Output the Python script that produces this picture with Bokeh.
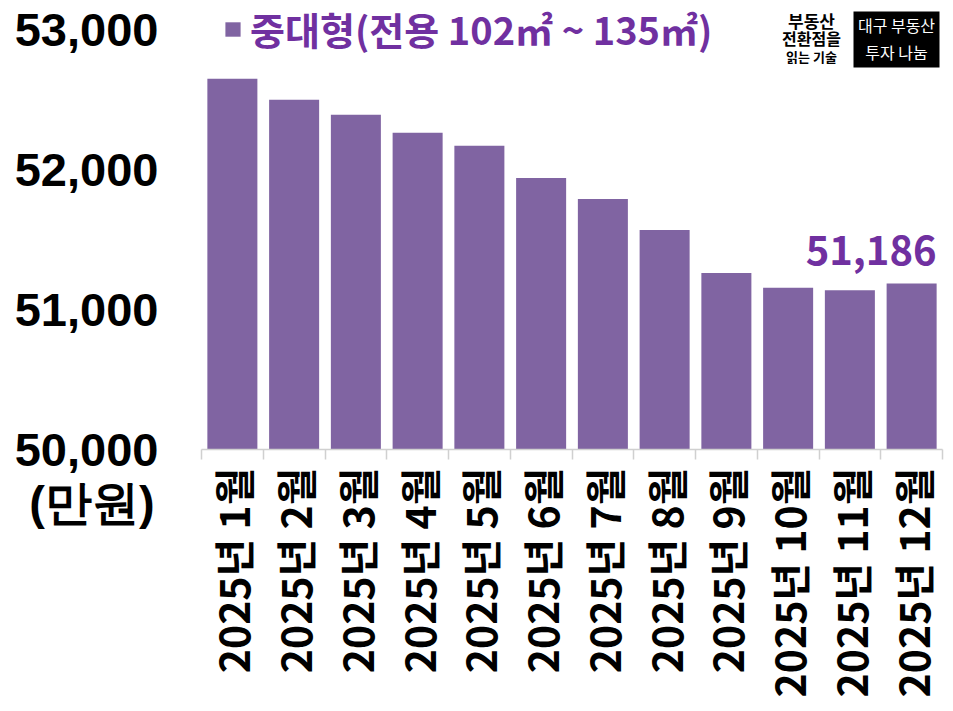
import math
from bokeh.plotting import figure
from bokeh.models import (Range1d, FixedTicker, Legend, LegendItem, Label, BoxAnnotation)
from bokeh.core.properties import value
from bokeh.embed import file_html
from bokeh.resources import INLINE

# ---- data ----
months = ["2025년 1월", "2025년 2월", "2025년 3월", "2025년 4월", "2025년 5월", "2025년 6월",
          "2025년 7월", "2025년 8월", "2025년 9월", "2025년 10월", "2025년 11월", "2025년 12월"]
prices = [52648, 52498, 52391, 52262, 52169, 51940, 51790, 51568, 51260, 51155, 51138, 51186]
y_ticks = [50000, 51000, 52000, 53000]
y_tick_labels = ["50,000", "51,000", "52,000", "53,000"]
series_name = "중대형(전용 102㎡ ~ 135㎡)"
unit_label = "(만원)"
last_label = "51,186"

BAR = "#8064A2"
PURPLE = "#7030A0"
KR = "Noto Sans CJK KR"

W, H = 953, 711
ML, MR, MT, MB = 201, 11, 0, 262

p = figure(width=W, height=H, output_backend="svg", toolbar_location=None,
           x_range=Range1d(0, len(months)), y_range=Range1d(50000, 53207),
           min_border_left=ML, min_border_right=MR, min_border_top=MT, min_border_bottom=MB)
p.outline_line_color = None
p.grid.visible = False
p.background_fill_color = "white"
p.border_fill_color = "white"

xs = [i + 0.5 for i in range(len(months))]
bw = 0.81
r = p.vbar(x=xs, top=prices, bottom=50000, width=bw, fill_color=BAR, line_color=None)

# x axis
xa = p.xaxis[0]
xa.ticker = FixedTicker(ticks=xs, minor_ticks=list(range(len(months) + 1)))
xa.major_label_overrides = {x: m for x, m in zip(xs, months)}
xa.major_label_orientation = math.pi / 2
xa.major_tick_line_color = None
xa.major_tick_out = 0
xa.major_tick_in = 0
xa.minor_tick_line_color = "#d0d0d0"
xa.minor_tick_line_width = 1.5
xa.minor_tick_out = 10
xa.minor_tick_in = 0
xa.axis_line_color = "#d0d0d0"
xa.axis_line_width = 1.5
xa.major_label_standoff = 8
xa.major_label_text_font = KR
xa.major_label_text_font_style = "bold"
xa.major_label_text_font_size = "41px"
xa.major_label_text_color = "black"

# y axis (the unit sits under the lowest tick label: blank line above keeps 50,000 centred)
ya = p.yaxis[0]
ya.ticker = FixedTicker(ticks=y_ticks)
overrides = {t: s for t, s in zip(y_ticks, y_tick_labels)}
overrides[y_ticks[0]] = " \n" + y_tick_labels[0] + "\n" + unit_label + "\u200a"
ya.major_label_overrides = overrides
ya.axis_line_color = None
ya.major_tick_line_color = None
ya.minor_tick_line_color = None
ya.major_tick_out = 0
ya.major_label_standoff = 43
ya.major_label_text_font = "Liberation Sans"
ya.major_label_text_font_style = "bold"
ya.major_label_text_font_size = "47px"
ya.major_label_text_line_height = 1.0
ya.major_label_text_color = "black"

# pixel -> data helpers for annotations
FL, FB = 201.0, 449.0
px_per_x = (942.0 - 201.0) / len(months)
px_per_y = 140.0 / 1000.0
def dx(px):
    return (px - FL) / px_per_x
def dy(py):
    return 50000 + (FB - py) / px_per_y

# data label on last bar
p.text(x=[xs[-1] + bw / 2], y=[prices[-1]], text=[last_label], text_font=value(KR),
       text_font_style="bold", text_font_size="40px", text_color=PURPLE,
       text_align="right", text_baseline="alphabetic", y_offset=-33)

# legend
leg = Legend(items=[LegendItem(label=series_name, renderers=[r])],
             location=(22, 393), orientation="horizontal",
             label_text_font=KR, label_text_font_style="bold", label_text_font_size="38px",
             label_text_color=PURPLE, glyph_width=19, glyph_height=18, label_standoff=8,
             padding=0, margin=0, border_line_color=None, background_fill_alpha=0)
p.add_layout(leg)

# logo texts
p.add_layout(Label(x=dx(811), y=dy(20), text="부동산", text_font=KR, text_font_style="bold",
                   text_font_size="17px", text_color="black", text_align="center", text_baseline="middle"))
p.add_layout(Label(x=dx(811), y=dy(38), text="전환점을", text_font=KR, text_font_style="bold",
                   text_font_size="16px", text_color="black", text_align="center", text_baseline="middle"))
p.add_layout(Label(x=dx(811), y=dy(56), text="읽는 기술", text_font=KR, text_font_style="bold",
                   text_font_size="13px", text_color="black", text_align="center", text_baseline="middle"))
p.add_layout(BoxAnnotation(left=dx(853), right=dx(939), top=dy(11), bottom=dy(67),
                           fill_color="black", fill_alpha=1, line_color=None))
p.add_layout(Label(x=dx(896), y=dy(25), text="대구 부동산", text_font=KR,
                   text_font_size="16px", text_color="white", text_align="center", text_baseline="middle"))
p.add_layout(Label(x=dx(896), y=dy(52), text="투자 나눔", text_font=KR,
                   text_font_size="16px", text_color="white", text_align="center", text_baseline="middle"))

open("out.html", "w").write(file_html(p, INLINE))
